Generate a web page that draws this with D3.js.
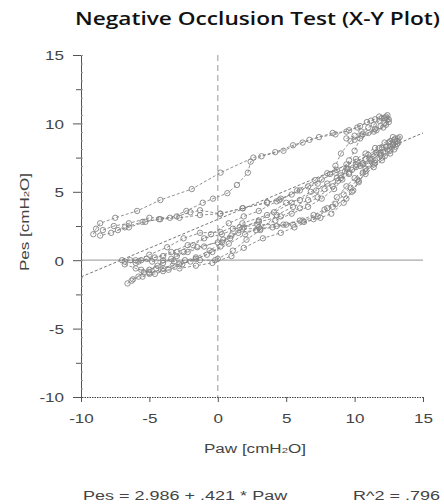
<!DOCTYPE html>
<html><head><meta charset="utf-8">
<script src="https://cdn.jsdelivr.net/npm/d3@7"></script>
<style>body{margin:0;background:#fff;}svg{display:block;}</style>
</head><body>
<script>
// ---- data ----
const title = "Negative Occlusion Test (X-Y Plot)";
const xTicks = [-10, -5, 0, 5, 10, 15];
const yTicks = [-10, -5, 0, 5, 10, 15];
const xLabel = "Paw [cmH", xLabelSub = "2", xLabelEnd = "O]";
const yLabel = "Pes [cmH", yLabelSub = "2", yLabelEnd = "O]";
const intercept = 2.986, slope = 0.421;
const equationText = "Pes = 2.986 + .421 * Paw";
const r2Text = "R^2 = .796";

const loop1 = [[-9.1,1.9],[-8.9,2.3],[-8.6,2.7],[-7.5,3.1],[-5.9,3.6],[-4.2,4.4],[-1.9,5.2],[0.2,6.4],[2.6,7.5],[4.2,7.9],[5.5,8.4],[6.7,8.8],[8.4,9.3],[9.4,9.4],[10.2,9.7],[10.9,10.1],[11.5,10.3],[12.0,10.4],[12.4,10.3],[12.3,9.9],[11.6,9.5],[10.6,9.2],[9.7,8.7],[9.0,7.8],[8.6,6.9],[8.2,6.3],[7.3,5.6],[6.0,5.1],[4.6,4.5],[3.6,4.2],[1.8,3.8],[0.2,3.4],[-1.3,3.3],[-2.8,3.1],[-4.2,3.0],[-5.5,2.8],[-6.8,2.4],[-7.8,2.0],[-8.6,1.8]];
const loop2 = [[-8.4,2.2],[-7.6,2.5],[-6.5,2.7],[-5.0,3.1],[-3.5,3.1],[-2.3,3.6],[-1.1,4.2],[-0.35,4.5],[0.7,4.9],[1.4,5.5],[2.2,6.4],[2.4,7.2],[3.2,7.6],[4.8,8.0],[6.2,8.6],[7.4,9.0],[8.6,9.2],[9.6,9.5],[10.4,9.8],[11.2,10.2],[11.8,10.5],[12.3,10.5],[12.5,10.1],[12.1,9.7],[11.4,9.4],[10.4,8.9],[10.0,8.0],[9.6,7.3],[9.3,6.5],[8.7,6.0],[7.2,5.1],[6.0,4.4],[5.0,4.2],[3.6,3.3],[1.8,2.7],[0.2,2.05],[-1.3,2.0],[-2.5,1.6],[-3.7,0.95],[-5.0,0.4],[-6.0,0.0]];
const loop3 = [[-6.8,-0.1],[-6.0,-0.2],[-5.2,0.1],[-4.0,0.3],[-3.0,0.6],[-1.8,1.1],[-0.5,1.9],[0.8,2.7],[1.9,3.2],[3.0,3.6],[4.3,4.3],[5.4,4.8],[6.6,5.4],[7.6,5.9],[8.6,6.4],[9.4,6.7],[10.1,7.0],[10.8,7.4],[11.6,7.9],[12.3,8.3],[12.9,8.8],[13.3,9.0],[13.1,8.5],[12.6,8.0],[12.0,7.5],[11.4,7.0],[10.8,6.5],[10.3,5.7],[9.9,5.1],[9.4,4.5],[8.4,3.9],[7.3,3.2],[6.2,2.9],[4.8,2.6],[2.9,2.6],[1.1,2.3],[0.2,1.0],[-0.8,0.4],[-2.0,-0.1],[-3.3,-0.4],[-4.5,-0.6],[-5.6,-0.7]];
const loop4 = [[-6.6,-1.7],[-6.3,-1.5],[-5.8,-1.2],[-5.0,-0.7],[-4.0,-0.2],[-3.0,0.3],[-2.5,0.6],[-1.5,0.95],[0.0,1.3],[0.9,1.6],[1.8,2.3],[3.1,2.3],[4.3,2.5],[5.5,2.6],[6.3,2.8],[7.5,3.1],[8.3,3.4],[9.2,4.2],[9.8,5.0],[10.3,5.8],[10.8,6.3],[11.4,6.8],[12.0,7.3],[12.6,7.8],[13.0,8.3],[13.2,8.6],[12.8,8.4],[12.1,7.9],[11.3,7.4],[10.6,7.0],[9.8,6.6],[9.0,6.2],[8.0,5.6],[6.8,5.0],[5.4,4.2],[4.1,3.5],[3.0,2.9],[1.9,2.4],[1.0,1.8],[0.3,1.3],[-0.6,0.7],[-1.6,0.2],[-2.6,-0.3],[-3.6,-0.7],[-4.6,-1.0],[-5.5,-1.2]];
const loop5 = [[-7.0,0.0],[-6.4,0.0],[-5.6,0.0],[-4.8,-0.1],[-4.0,0.0],[-3.2,-0.1],[-2.4,0.0],[-1.3,0.0],[-0.2,0.0],[0.0,0.1],[1.1,0.7],[2.1,1.5],[3.1,2.2],[4.3,3.3],[5.5,3.9],[6.6,4.4],[7.8,5.2],[8.8,5.8],[9.6,6.3],[10.4,6.9],[11.2,7.3],[11.9,7.8],[12.6,8.3],[13.1,8.7],[12.9,8.1],[12.2,7.6],[11.5,7.1],[10.8,6.7],[10.0,6.0],[9.4,5.4],[8.7,4.6],[8.0,3.8],[7.0,3.0],[5.6,2.4],[4.6,2.0],[3.3,1.6],[1.9,0.9],[1.0,0.3],[-0.4,-0.2],[-1.6,-0.4],[-2.8,-0.6],[-4.0,-0.8],[-5.0,-0.9],[-6.0,-0.6],[-6.8,-0.3]];
const loop6 = [[-7.3,2.2],[-6.5,2.4],[-5.3,2.8],[-4.3,3.0],[-3.0,3.2],[-2.0,3.5],[-1.3,3.65],[0.16,3.4],[1.84,3.8],[3.6,4.24],[4.5,4.4],[5.8,5.1],[7.1,5.85],[8.0,6.36],[8.7,6.6],[9.4,7.0],[10.1,7.4],[10.8,7.8],[11.5,8.2],[12.2,8.6],[12.8,9.0],[12.6,8.7],[11.8,8.2],[11.0,7.7],[10.2,7.2],[9.5,6.7],[9.0,6.0],[8.4,5.4],[7.3,4.6],[6.0,3.8],[4.6,3.2],[3.0,2.8],[1.6,2.4],[0.3,1.9],[-1.0,1.6],[-2.2,1.1],[-3.4,0.6],[-4.6,0.2],[-5.8,-0.1]];
const loop7 = [[-6.2,-1.4],[-5.4,-0.9],[-4.4,-0.4],[-3.4,0.1],[-2.2,0.6],[-1.0,1.0],[0.4,1.5],[1.5,2.0],[2.8,2.2],[4.0,2.4],[5.0,2.6],[6.0,2.9],[7.0,3.3],[7.8,3.7],[8.6,4.1],[9.2,4.8],[9.7,5.3],[10.2,5.9],[10.6,6.4],[11.0,6.9],[11.5,7.3],[11.9,7.7],[12.4,8.1],[12.8,8.5],[13.2,8.9],[13.0,8.9],[12.5,8.6],[12.0,8.2],[11.6,7.8],[11.1,7.4],[10.6,7.1],[10.1,6.8],[9.6,6.4],[9.1,5.9],[8.5,5.2],[7.6,4.5],[6.6,3.9],[5.4,3.4],[4.2,2.9],[3.0,2.4],[2.0,1.9],[0.8,1.2],[-0.4,0.6],[-1.6,0.1],[-2.8,-0.3],[-4.0,-0.6],[-5.0,-1.0]];
const loop8 = [[9.4,8.9],[10.0,9.1],[10.5,9.4],[11.0,9.7],[11.4,9.9],[11.8,10.2],[12.2,10.4],[12.4,10.6],[12.5,10.3],[12.2,10.0],[11.9,9.8],[11.5,9.6],[11.0,9.3],[10.5,9.1],[10.0,8.8]];
const loops = [loop1, loop2, loop3, loop4, loop5, loop6, loop7, loop8];

// ---- drawing ----
const W = 444, H = 504;
const svg = d3.select("body").append("svg").attr("width", W).attr("height", H);
const x = d3.scaleLinear().domain([-10, 15]).range([81, 423]);
const y = d3.scaleLinear().domain([-10, 15]).range([397, 55]);
const font = "'Liberation Sans', Arial, sans-serif";
const grey = "#858585";
const txtCol = "#444";
const fmt = d => String(d);
const STRETCH = 1.42;
function stretch(sel, f) {
  sel.each(function () {
    const L = this.getComputedTextLength();
    d3.select(this).attr("textLength", L * f).attr("lengthAdjust", "spacingAndGlyphs");
  });
}

svg.append("text").attr("x", 75).attr("y", 25)
  .attr("font-family", "'Open Sans', sans-serif").attr("font-weight", 600)
  .attr("font-size", 18.5).attr("fill", "#111")
  .attr("textLength", 365).attr("lengthAdjust", "spacingAndGlyphs").text(title);

// reference lines
svg.append("line").attr("x1", x(-10)).attr("x2", x(15)).attr("y1", y(0)).attr("y2", y(0))
  .attr("stroke", "#aaa").attr("stroke-width", 1.2);
svg.append("line").attr("x1", x(0)).attr("x2", x(0)).attr("y1", y(15)).attr("y2", y(-10))
  .attr("stroke", "#aaa").attr("stroke-width", 1.2).attr("stroke-dasharray", "6,4");

// regression line
svg.append("line").attr("x1", x(-10)).attr("x2", x(15))
  .attr("y1", y(intercept + slope * -10)).attr("y2", y(intercept + slope * 15))
  .attr("stroke", "#777").attr("stroke-width", 1).attr("stroke-dasharray", "3,2");

// loops
const line = d3.line().x(d => x(d[0])).y(d => y(d[1]));
const g = svg.append("g");
loops.forEach(L => {
  g.append("path").attr("d", line(L)).attr("fill", "none")
    .attr("stroke", grey).attr("stroke-width", 0.9).attr("stroke-dasharray", "3,2");
});
loops.forEach(L => {
  g.selectAll(null).data(L).enter().append("circle")
    .attr("cx", d => x(d[0])).attr("cy", d => y(d[1])).attr("r", 2.7)
    .attr("fill", "none").attr("stroke", grey).attr("stroke-width", 0.9);
});

// y axis
const yAxis = svg.append("g").attr("transform", `translate(${x(-10)},0)`)
  .call(d3.axisLeft(y).tickValues(yTicks).tickSize(8).tickPadding(9).tickFormat(fmt));
yAxis.select(".domain").attr("stroke", "#555");
yAxis.selectAll(".tick line").attr("stroke", "#555");
yAxis.selectAll("text").attr("font-family", font).attr("font-size", 12).attr("fill", txtCol)
  .attr("dy", "0.4em").call(stretch, STRETCH);
const yMinor = svg.append("g").attr("transform", `translate(${x(-10)},0)`)
  .call(d3.axisLeft(y).tickValues(d3.range(-7.5, 15, 5)).tickSize(5).tickFormat(""));
yMinor.select(".domain").remove();
yMinor.selectAll(".tick line").attr("stroke", "#555");
const yTiny = svg.append("g").attr("transform", `translate(${x(-10)},0)`)
  .call(d3.axisRight(y).tickValues(d3.range(-10, 15.01, 0.625)).tickSize(2).tickFormat(""));
yTiny.select(".domain").remove();
yTiny.selectAll(".tick line").attr("stroke", "#999");

// x axis
const xAxis = svg.append("g").attr("transform", `translate(0,${y(-10)})`)
  .call(d3.axisBottom(x).tickValues(xTicks).tickSize(5).tickPadding(12).tickFormat(fmt));
xAxis.select(".domain").attr("stroke", "#444").attr("stroke-dasharray", "1.5,1");
xAxis.selectAll(".tick line").attr("stroke", "#555");
xAxis.selectAll("text").attr("font-family", font).attr("font-size", 12).attr("fill", txtCol)
  .call(stretch, STRETCH);

// axis titles
const xt = svg.append("text").attr("x", (x(-10) + x(15)) / 2 + 3).attr("y", 453)
  .attr("text-anchor", "middle").attr("font-family", font).attr("font-size", 12).attr("fill", txtCol);
xt.append("tspan").text(xLabel);
xt.append("tspan").attr("font-size", 8).text(xLabelSub);
xt.append("tspan").text(xLabelEnd);
xt.call(stretch, STRETCH);
const yt = svg.append("text").attr("transform", `translate(29,${(y(-10) + y(15)) / 2 - 4}) rotate(-90)`)
  .attr("text-anchor", "middle").attr("font-family", font).attr("font-size", 12).attr("fill", txtCol);
yt.append("tspan").text(yLabel);
yt.append("tspan").attr("font-size", 8).text(yLabelSub);
yt.append("tspan").text(yLabelEnd);
yt.call(stretch, STRETCH);

// equation
svg.append("text").attr("x", 83).attr("y", 500).attr("font-family", font).attr("font-size", 12)
  .attr("fill", txtCol).text(equationText).call(stretch, 1.5);
svg.append("text").attr("x", 353).attr("y", 500).attr("font-family", font).attr("font-size", 12)
  .attr("fill", txtCol).text(r2Text).call(stretch, 1.5);
</script>
</body></html>
